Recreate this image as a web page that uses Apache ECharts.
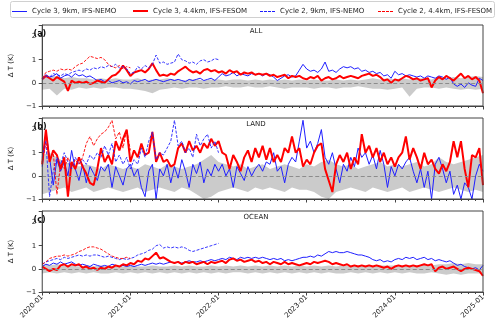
<!DOCTYPE html>
<html>
<head>
<meta charset="utf-8">
<script src="https://cdn.jsdelivr.net/npm/echarts@6/dist/echarts.min.js"></script>
<style>
html, body { margin: 0; padding: 0; background: #fff; }
#chart { width: 500px; height: 324px; }
</style>
</head>
<body>
<div id="chart"></div>
<script>
// series names (legend)
var names = ['Cycle 3, 9km, IFS-NEMO', 'Cycle 3, 4.4km, IFS-FESOM', 'Cycle 2, 9km, IFS-NEMO', 'Cycle 2, 4.4km, IFS-FESOM'];
var panelTags = ['(a)', '(b)', '(c)'];
var panelTitles = ['ALL', 'LAND', 'OCEAN'];
var yearLabels = ['2020-01', '2021-01', '2022-01', '2023-01', '2024-01', '2025-01'];

// Cycle 3: half-month steps from 2020-01 to 2025-01 (121 values)
// Cycle 2: half-month steps, NEMO to 2022-01 (49), FESOM to 2021-01 (25)
// spread band: monthly (61 values)

// (a) ALL
var allC3Nemo = [
    0.2, 0.35, 0.25, 0.3, 0.4, 0.2, 0.3, 0.35, 0.25, 0.4, 0.3, 0.35,
    0.25, 0.3, 0.2, 0.1, 0.15, 0.05, 0.1, 0.0, 0.05, 0.1, 0.0, 0.05,
    -0.05, 0.1, 0.05, 0.1, 0.15, 0.05, 0.1, 0.15, 0.1, 0.05, 0.1, 0.15,
    0.1, 0.15, 0.1, 0.05, 0.15, 0.1, 0.15, 0.2, 0.1, 0.15, 0.2, 0.1,
    0.25, 0.4, 0.3, 0.35, 0.45, 0.3, 0.4, 0.35, 0.3, 0.4, 0.35, 0.4,
    0.3, 0.4, 0.35, 0.25, 0.1, 0.2, 0.3, 0.35, 0.25, 0.3, 0.55, 0.8,
    0.6, 0.5, 0.55, 0.45, 0.6, 0.9, 0.5, 0.55, 0.45, 0.6, 0.7, 0.65,
    0.7, 0.6, 0.65, 0.5, 0.55, 0.45, 0.5, 0.4, 0.45, 0.3, 0.35, 0.2,
    0.5, 0.35, 0.4, 0.3, 0.35, 0.3, 0.25, 0.3, 0.2, 0.3, 0.25, 0.2,
    0.3, 0.25, 0.15, 0.25, -0.05, -0.15, -0.05, -0.2, 0.0, -0.1, -0.15, 0.2,
    0.1
];
var allC3Fesom = [
    0.15, 0.3, 0.2, 0.1, 0.25, 0.15, 0.05, -0.35, 0.1, 0.0, 0.05, 0.0,
    0.05, -0.05, 0.0, 0.1, 0.05, 0.0, 0.15, 0.3, 0.35, 0.5, 0.75, 0.55,
    0.3, 0.45, 0.5, 0.55, 0.45, 0.6, 0.85, 0.55, 0.3, 0.35, 0.3, 0.4,
    0.35, 0.5, 0.6, 0.7, 0.55, 0.45, 0.5, 0.4, 0.55, 0.6, 0.5, 0.55,
    0.45, 0.5, 0.4, 0.55, 0.45, 0.5, 0.35, 0.45, 0.4, 0.45, 0.35, 0.4,
    0.35, 0.4, 0.3, 0.35, 0.25, 0.3, 0.35, 0.2, 0.3, 0.25, 0.3, 0.2,
    0.15, 0.25, 0.2, 0.3, 0.1, 0.2, 0.25, 0.15, 0.2, 0.3, 0.2, 0.25,
    0.3, 0.25, 0.2, 0.3, 0.35, 0.4, 0.3, 0.35, 0.25, 0.1, 0.15, 0.0,
    0.15, 0.1, 0.2, 0.3, 0.25, 0.15, 0.2, 0.1, 0.15, 0.2, -0.2, 0.1,
    0.25, 0.15, 0.3, 0.2, 0.1, 0.25, 0.4, 0.2, 0.3, 0.15, 0.25, 0.1,
    -0.45
];
var allC2Nemo = [
    0.15, 0.3, 0.25, 0.4, 0.35, 0.3, 0.4, 0.35, 0.45, 0.5, 0.55, 0.5,
    0.6, 0.55, 0.65, 0.6, 0.7, 0.65, 0.75, 0.7, 0.8, 0.65, 0.7, 0.6,
    0.4, 0.45, 0.7, 0.6, 0.75, 0.65, 0.8, 1.2, 0.85, 0.9, 0.8, 0.85,
    0.9, 1.25, 1.0, 0.95, 0.85, 0.9, 0.8, 0.95, 1.0, 0.9, 0.95, 1.05,
    1.0
];
var allC2Fesom = [
    0.2, 0.45, 0.5, 0.55, 0.5, 0.6, 0.55, 0.6, 0.55, 0.7, 0.8, 0.85,
    1.0, 1.15, 1.1, 1.05, 1.1, 1.0, 0.8, 0.7, 0.65, 0.75, 0.6, 0.7,
    0.65
];
var allBandHi = [
    0.3, 0.25, 0.3, 0.2, 0.25, 0.2, 0.2, 0.15, 0.2, 0.15, 0.2, 0.15,
    0.15, 0.2, 0.1, 0.15, 0.15, 0.2, 0.15, 0.1, 0.15, 0.15, 0.1, 0.15,
    0.15, 0.1, 0.15, 0.15, 0.1, 0.15, 0.1, 0.15, 0.1, 0.15, 0.1, 0.15,
    0.1, 0.15, 0.1, 0.1, 0.15, 0.1, 0.15, 0.1, 0.15, 0.2, 0.15, 0.2,
    0.15, 0.2, 0.15, 0.2, 0.2, 0.15, 0.25, 0.2, 0.25, 0.2, 0.25, 0.3,
    0.25
];
var allBandLo = [
    -0.3, -0.25, -0.55, -0.25, -0.3, -0.2, -0.25, -0.2, -0.25, -0.2, -0.2, -0.25,
    -0.25, -0.3, -0.35, -0.45, -0.3, -0.25, -0.2, -0.25, -0.2, -0.2, -0.25, -0.2,
    -0.2, -0.15, -0.2, -0.2, -0.15, -0.2, -0.2, -0.15, -0.2, -0.25, -0.2, -0.2,
    -0.2, -0.25, -0.2, -0.2, -0.25, -0.2, -0.2, -0.15, -0.2, -0.25, -0.25, -0.3,
    -0.25, -0.2, -0.6, -0.25, -0.2, -0.2, -0.25, -0.2, -0.25, -0.3, -0.25, -0.3,
    -0.25
];

// (b) LAND
var landC3Nemo = [
    0.4, 1.9, 0.8, -0.4, 0.7, 0.2, 0.6, 0.0, 1.1, 0.3, -0.2, 0.5,
    -0.3, 0.4, 0.1, -0.2, 0.4, 0.2, 0.5, -0.5, 0.4, 0.0, -0.4, 0.3,
    0.5, 0.0, 0.3, -0.5, -0.9, 0.2, 0.5, -1.0, 0.3, 0.0, 0.5, -0.3,
    0.4, -0.1, 0.7, 0.2, -0.5, 0.5, 0.1, 0.6, -0.3, 0.3, 0.0, 0.5,
    0.2, 0.5, 0.0, 0.3, -0.5, 0.4, 0.1, -0.2, 0.4, 0.0, 0.3, 0.5,
    0.2, 0.6, 0.5, 1.0, 0.2, 0.4, -0.3, 0.5, 0.8, 0.6, 1.5, 2.4,
    1.2, 1.5, 1.0, 1.4, 2.0, 0.8, 0.5, 1.0, 0.3, -0.3, 0.5, 0.2,
    0.8, 0.4, 1.2, 0.8, 1.0, 0.5, 0.9, 0.3, 1.1, 0.5, -0.5, 0.4,
    0.0, 0.5, 0.3, 0.6, 0.8, 0.2, -0.3, 0.3, -0.5, 0.2, -1.0, 0.5,
    0.8, 0.3, -0.3, 0.2, -0.8, -0.4, -1.0, -0.3, -0.5, -1.0, 0.0, 0.5,
    0.2
];
var landC3Fesom = [
    0.5, 2.0, 0.6, 1.1, 0.9, 0.3, 0.8, -0.9, 0.6, 0.3, 0.8, 0.4,
    0.1, -0.3, -0.4, 0.3, 1.2, 0.6, 0.9, 0.5, 1.5, 1.1, 1.6, 2.0,
    0.6, 1.1, 0.8, 1.4, 0.9, 1.0, 1.9, 0.6, 1.0, 0.6, 0.7, 0.4,
    0.5, 1.2, 1.4, 1.0, 1.5, 1.1, 1.3, 1.0, 1.4, 1.2, 1.6, 1.3,
    1.5, 1.0, 0.9, 0.3, 0.9, 0.6, 0.2, 0.8, 1.1, 0.6, 1.2, 0.8,
    1.3, 0.7, 1.2, 0.6, 0.9, 0.6, 1.2, 1.0, 1.7, 1.0, 1.2, 0.4,
    0.7, 0.5, 1.0, 1.3, 1.4, 0.3, -0.2, -0.7, 0.5, 0.9, 0.6, 1.0,
    0.3, 0.8, 0.5, 1.8, 1.0, 1.3, 0.8, 1.2, 0.6, 1.0, 0.5, 0.8,
    0.4, 0.8, 1.0, 1.7, 0.7, 1.2, 0.8, 0.3, 1.0, 0.5, 0.7, 0.3,
    0.1, 0.5, 0.2, 0.6, 1.5, 0.8, 1.5, 0.3, -0.5, 0.9, 0.8, 1.2,
    -0.4
];
var landC2Nemo = [
    0.8, 1.5, -0.9, 0.2, 0.8, 0.5, 1.0, 0.6, 0.3, 0.8, 0.5, 0.7,
    0.5, 0.9, 0.7, 1.0, 0.8, 1.3, 0.9, 1.4, 0.6, 0.9, 0.5, 0.8,
    0.3, 0.7, 0.5, 1.2, 0.8, 1.5, 1.9, 0.7, 1.0, 0.9, 1.2, 1.5,
    2.4, 1.3, 1.5, 1.0, 1.2, 0.8, 1.8, 1.3, 1.6, 1.8, 1.2, 1.5,
    1.0
];
var landC2Fesom = [
    0.6, 1.4, 0.8, 1.0, -0.8, 0.5, 0.3, 0.8, 0.4, 0.7, 0.5, 0.8,
    1.4, 1.7, 1.3, 1.6, 1.8, 1.9, 2.1, 2.4, 1.6, 1.9, 1.2, 2.0,
    1.1
];
var landBandHi = [
    0.9, 1.0, 0.8, 0.6, 0.5, 0.4, 0.5, 0.4, 0.3, 0.5, 0.4, 0.3,
    0.4, 0.3, 0.5, 0.4, 0.3, 0.5, 0.4, 0.3, 0.4, 0.5, 0.7, 0.9,
    0.6, 0.5, 0.4, 0.5, 0.3, 0.4, 0.5, 0.3, 0.4, 0.5, 0.4, 0.3,
    0.5, 0.4, 0.6, 0.7, 0.5, 0.4, 0.5, 0.3, 0.4, 0.5, 0.6, 0.4,
    0.5, 0.4, 0.5, 0.6, 0.4, 0.5, 0.8, 0.6, 0.5, 0.6, 0.7, 0.8,
    0.9
];
var landBandLo = [
    -0.8, -0.7, -0.6, -0.5, -0.7, -0.6, -0.5, -0.7, -0.6, -0.5, -0.6, -0.7,
    -0.6, -0.5, -0.7, -0.6, -0.5, -0.6, -0.7, -0.5, -0.6, -0.8, -1.0, -0.9,
    -0.7, -0.6, -0.5, -0.6, -0.7, -0.5, -0.6, -0.5, -0.6, -0.7, -0.5, -0.6,
    -0.6, -0.7, -0.9, -1.0, -0.7, -0.6, -0.5, -0.6, -0.7, -0.5, -0.6, -0.7,
    -0.6, -0.5, -0.7, -0.6, -0.5, -0.6, -0.7, -0.6, -0.5, -0.6, -0.7, -0.6,
    -0.7
];

// (c) OCEAN
var oceanC3Nemo = [
    0.1, 0.2, 0.15, 0.25, 0.2, 0.3, 0.2, 0.25, 0.3, 0.2, 0.15, 0.2,
    0.15, 0.1, 0.2, 0.15, 0.1, 0.15, 0.1, 0.2, 0.15, 0.1, 0.15, 0.1,
    0.15, 0.1, 0.15, 0.2, 0.15, 0.2, 0.25, 0.2, 0.25, 0.2, 0.25, 0.3,
    0.25, 0.3, 0.25, 0.3, 0.35, 0.3, 0.3, 0.35, 0.3, 0.35, 0.4, 0.35,
    0.4, 0.45, 0.4, 0.5, 0.45, 0.4, 0.5, 0.45, 0.5, 0.45, 0.5, 0.45,
    0.5, 0.45, 0.4, 0.45, 0.4, 0.45, 0.35, 0.4, 0.35, 0.4, 0.45, 0.5,
    0.5, 0.55, 0.5, 0.6, 0.55, 0.65, 0.75, 0.7, 0.75, 0.7, 0.7, 0.75,
    0.7, 0.65, 0.6, 0.6, 0.55, 0.5, 0.4, 0.35, 0.4, 0.3, 0.35, 0.3,
    0.4, 0.45, 0.4, 0.5, 0.45, 0.5, 0.4, 0.45, 0.5, 0.4, 0.45, 0.35,
    0.4, 0.35, 0.3, 0.35, 0.25, 0.15, 0.2, 0.1, 0.05, 0.0, 0.05, -0.05,
    0.15
];
var oceanC3Fesom = [
    0.1, 0.0, -0.1, 0.0, -0.05, 0.15, 0.2, 0.1, 0.2, 0.15, 0.2, 0.05,
    0.1, 0.0, 0.05, -0.05, 0.05, 0.0, 0.1, 0.05, 0.15, 0.1, 0.2, 0.15,
    0.25, 0.2, 0.35, 0.3, 0.45, 0.4, 0.55, 0.7, 0.45, 0.5, 0.4, 0.3,
    0.25, 0.3, 0.2, 0.3, 0.25, 0.3, 0.2, 0.25, 0.3, 0.2, 0.3, 0.25,
    0.3, 0.35, 0.25, 0.4, 0.45, 0.35, 0.4, 0.3, 0.35, 0.4, 0.3, 0.35,
    0.25, 0.3, 0.2, 0.3, 0.25, 0.2, 0.3, 0.2, 0.25, 0.2, 0.15, 0.2,
    0.25, 0.2, 0.3, 0.25, 0.3, 0.35, 0.3, 0.2, 0.25, 0.2, 0.15, 0.2,
    0.1, 0.15, 0.1, 0.15, 0.1, 0.15, 0.1, 0.15, 0.1, 0.05, 0.1, 0.0,
    0.1, 0.15, 0.1, 0.15, 0.1, 0.15, 0.1, 0.15, 0.2, 0.15, 0.2, -0.1,
    0.05, 0.1, 0.0, 0.05, 0.1, 0.0, -0.1, 0.0, 0.05, 0.0, -0.05, -0.1,
    -0.3
];
var oceanC2Nemo = [
    0.2, 0.3, 0.35, 0.4, 0.45, 0.4, 0.5, 0.45, 0.5, 0.55, 0.6, 0.55,
    0.6, 0.55, 0.6, 0.6, 0.55, 0.5, 0.55, 0.5, 0.45, 0.4, 0.45, 0.4,
    0.45, 0.5, 0.6, 0.65, 0.7, 0.8, 0.85, 1.0, 1.05, 0.9, 0.95, 0.9,
    0.95, 0.9, 0.95, 0.9, 0.8, 0.75, 0.8, 0.85, 0.9, 0.95, 1.0, 1.05,
    1.1
];
var oceanC2Fesom = [
    0.2, 0.3, 0.45, 0.5, 0.55, 0.55, 0.6, 0.55, 0.6, 0.65, 0.75, 0.8,
    0.9, 0.95, 0.95, 0.9, 0.85, 0.75, 0.65, 0.55, 0.5, 0.45, 0.45, 0.5,
    0.45
];
var oceanBandHi = [
    0.2, 0.15, 0.2, 0.15, 0.15, 0.1, 0.15, 0.1, 0.15, 0.1, 0.15, 0.1,
    0.15, 0.1, 0.1, 0.15, 0.1, 0.1, 0.15, 0.1, 0.15, 0.1, 0.1, 0.15,
    0.1, 0.15, 0.1, 0.15, 0.1, 0.15, 0.1, 0.15, 0.1, 0.15, 0.1, 0.15,
    0.1, 0.15, 0.1, 0.15, 0.1, 0.15, 0.1, 0.15, 0.15, 0.1, 0.15, 0.15,
    0.15, 0.1, 0.15, 0.15, 0.2, 0.15, 0.2, 0.2, 0.25, 0.2, 0.25, 0.2,
    0.2
];
var oceanBandLo = [
    -0.2, -0.15, -0.2, -0.15, -0.2, -0.15, -0.2, -0.15, -0.2, -0.2, -0.15, -0.2,
    -0.15, -0.2, -0.15, -0.2, -0.15, -0.2, -0.15, -0.2, -0.15, -0.2, -0.15, -0.2,
    -0.15, -0.2, -0.15, -0.15, -0.2, -0.15, -0.2, -0.15, -0.2, -0.15, -0.2, -0.15,
    -0.2, -0.15, -0.2, -0.15, -0.2, -0.2, -0.15, -0.2, -0.15, -0.2, -0.15, -0.2,
    -0.15, -0.2, -0.15, -0.2, -0.2, -0.15, -0.2, -0.25, -0.2, -0.25, -0.2, -0.2,
    -0.2
];

var BLUE = '#1f1fff';
var RED = '#ff0000';
var FONT = 'DejaVu Sans';
var gridTops = [25, 118, 211];
var gridHeight = 81;

function pts(arr, step) {
    return arr.map(function (v, i) { return [i * step, v]; });
}

// band: gray area from the upper edge down to the axis floor, then a white
// area from the lower edge down to the floor cuts it back to a band
function panelSeries(k, lo, hi, c3n, c3f, c2n, c2f) {
    var base = { type: 'line', xAxisIndex: k, yAxisIndex: k, symbol: 'none', animation: false, silent: true };
    return [
        Object.assign({}, base, {
            name: 'hi' + k, data: pts(hi, 1),
            lineStyle: { width: 0, opacity: 0 },
            areaStyle: { color: '#cbcbcb', opacity: 1, origin: 'start' }, z: 1
        }),
        Object.assign({}, base, {
            name: 'lo' + k, data: pts(lo, 1),
            lineStyle: { width: 0, opacity: 0 },
            areaStyle: { color: '#ffffff', opacity: 1, origin: 'start' }, z: 1
        }),
        Object.assign({}, base, {
            name: names[0], data: pts(c3n, 0.5), color: BLUE,
            lineStyle: { color: BLUE, width: 1 }, z: 3,
            markLine: {
                silent: true, symbol: 'none', label: { show: false },
                lineStyle: { color: '#8c8c8c', type: [4, 2.5], width: 1 },
                data: [{ yAxis: 0 }]
            }
        }),
        Object.assign({}, base, {
            name: names[1], data: pts(c3f, 0.5), color: RED,
            lineStyle: { color: RED, width: 2 }, z: 4
        }),
        Object.assign({}, base, {
            name: names[2], data: pts(c2n, 0.5), color: BLUE,
            lineStyle: { color: BLUE, width: 0.9, type: [3, 1.5] }, z: 5
        }),
        Object.assign({}, base, {
            name: names[3], data: pts(c2f, 0.5), color: RED,
            lineStyle: { color: RED, width: 0.9, type: [3, 1.5] }, z: 5
        })
    ];
}

var chart = echarts.init(document.getElementById('chart'), null, { renderer: 'canvas' });

var grids = [], xAxes = [], yAxes = [], texts = [];
for (var k = 0; k < 3; k++) {
    grids.push({
        left: 30, right: 17, top: gridTops[k], height: gridHeight,
        show: true, borderColor: '#444', borderWidth: 1, backgroundColor: 'transparent', z: 6
    });
    xAxes.push({
        type: 'value', gridIndex: k, min: 0, max: 60, interval: 12,
        axisLine: { show: true, onZero: false, lineStyle: { color: '#444', width: 1 } },
        axisTick: { show: true, length: 3.5, lineStyle: { color: '#444' } },
        minorTick: { show: true, splitNumber: 12, length: 2, lineStyle: { color: '#444' } },
        splitLine: { show: false },
        axisLabel: {
            show: k === 2, rotate: 45, fontSize: 7, color: '#222', fontFamily: FONT, margin: 4,
            formatter: function (v) { return yearLabels[Math.round(v / 12)] || ''; }
        }
    });
    yAxes.push({
        type: 'value', gridIndex: k, min: -1, max: 2.5, interval: 1,
        name: 'Δ T (K)', nameLocation: 'middle', nameGap: 19,
        nameTextStyle: { fontSize: 7, color: '#222', fontFamily: FONT },
        axisLine: { show: true, lineStyle: { color: '#444', width: 1 } },
        axisTick: { show: true, length: 3.5, lineStyle: { color: '#444' } },
        splitLine: { show: false },
        axisLabel: {
            fontSize: 7, color: '#222', fontFamily: FONT, margin: 6,
            formatter: function (v) {
                if (v !== Math.round(v)) return '';
                return v < 0 ? '\u2212' + Math.abs(v) : String(v);
            }
        }
    });
    texts.push({
        type: 'text', x: 33.5, y: gridTops[k] + 8.5, z: 10,
        style: { text: panelTags[k], font: 'bold 8px ' + FONT, fill: '#111', textVerticalAlign: 'middle' }
    });
    texts.push({
        type: 'text', x: 256, y: gridTops[k] + 6.5, z: 10,
        style: { text: panelTitles[k], font: '7px ' + FONT, fill: '#222', textAlign: 'center', textVerticalAlign: 'middle' }
    });
}

texts.unshift({
    type: 'rect', z: -1,
    shape: { x: 10.5, y: 1.5, width: 484, height: 16, r: 2 },
    style: { fill: '#fff', stroke: '#d0d0d0', lineWidth: 1 }
});

var solidIcon = 'rect';
var dashIcon = 'path://M0,0h3v1h-3zM4,0h3v1h-3zM8,0h3v1h-3zM12,0h3v1h-3z';
var legendLefts = [12, 133, 260, 378];
var legendIcons = [solidIcon, solidIcon, dashIcon, dashIcon];
var legendHeights = [1, 2, 1, 1];
var legends = names.map(function (n, i) {
    return {
        data: [{ name: n, icon: legendIcons[i] }],
        left: legendLefts[i], top: 9 - legendHeights[i] / 2 - 0.5,
        padding: 0, itemGap: 0, itemWidth: 15, itemHeight: legendHeights[i],
        selectedMode: false,
        textStyle: { fontSize: 7, color: '#222', fontFamily: FONT, padding: [0, 0, 0, 0] }
    };
});

var series = []
    .concat(panelSeries(0, allBandLo, allBandHi, allC3Nemo, allC3Fesom, allC2Nemo, allC2Fesom))
    .concat(panelSeries(1, landBandLo, landBandHi, landC3Nemo, landC3Fesom, landC2Nemo, landC2Fesom))
    .concat(panelSeries(2, oceanBandLo, oceanBandHi, oceanC3Nemo, oceanC3Fesom, oceanC2Nemo, oceanC2Fesom));

chart.setOption({
    animation: false,
    backgroundColor: '#fff',
    textStyle: { fontFamily: FONT },
    legend: legends,
    grid: grids,
    xAxis: xAxes,
    yAxis: yAxes,
    graphic: texts,
    series: series
});
</script>
</body>
</html>
